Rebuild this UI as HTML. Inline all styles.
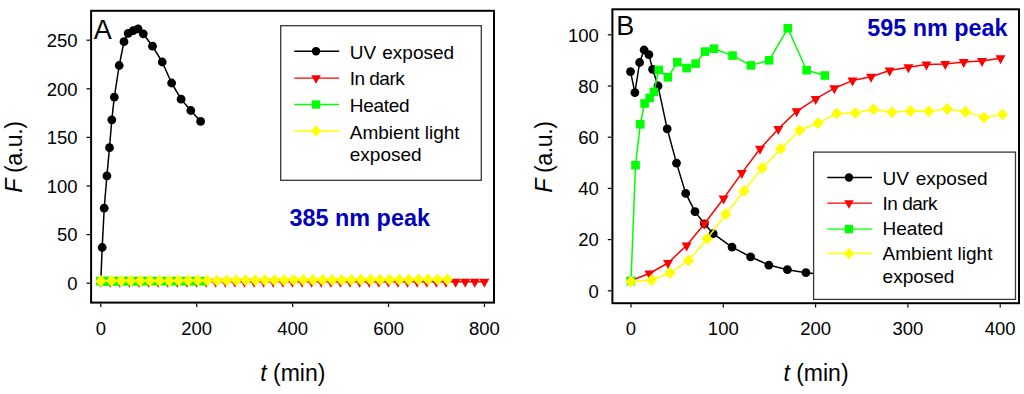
<!DOCTYPE html>
<html><head><meta charset="utf-8"><title>Fluorescence kinetics</title>
<style>
html,body{margin:0;padding:0;background:#fff;}
body{width:1024px;height:394px;overflow:hidden;}
svg{display:block;font-family:"Liberation Sans", sans-serif;}
</style></head>
<body>
<svg width="1024" height="394" viewBox="0 0 1024 394">
<rect width="1024" height="394" fill="#fff"/>
<polyline fill="none" stroke="#000000" stroke-width="1.5" stroke-linejoin="round" points="100.8,281.2 102.2,247.5 104.2,208.2 106.9,175.9 109.5,147.7 111.8,119.8 114.3,97.1 119.2,65.5 124,41.7 128.2,33.4 133.2,30.7 138.1,28.8 143.3,33.8 152.5,46.2 162.2,62 171.6,83 181.1,99.2 190.8,110.5 200.6,121.4"/>
<circle cx="100.8" cy="281.2" r="4.4" fill="#000000"/>
<circle cx="102.2" cy="247.5" r="4.4" fill="#000000"/>
<circle cx="104.2" cy="208.2" r="4.4" fill="#000000"/>
<circle cx="106.9" cy="175.9" r="4.4" fill="#000000"/>
<circle cx="109.5" cy="147.7" r="4.4" fill="#000000"/>
<circle cx="111.8" cy="119.8" r="4.4" fill="#000000"/>
<circle cx="114.3" cy="97.1" r="4.4" fill="#000000"/>
<circle cx="119.2" cy="65.5" r="4.4" fill="#000000"/>
<circle cx="124" cy="41.7" r="4.4" fill="#000000"/>
<circle cx="128.2" cy="33.4" r="4.4" fill="#000000"/>
<circle cx="133.2" cy="30.7" r="4.4" fill="#000000"/>
<circle cx="138.1" cy="28.8" r="4.4" fill="#000000"/>
<circle cx="143.3" cy="33.8" r="4.4" fill="#000000"/>
<circle cx="152.5" cy="46.2" r="4.4" fill="#000000"/>
<circle cx="162.2" cy="62" r="4.4" fill="#000000"/>
<circle cx="171.6" cy="83" r="4.4" fill="#000000"/>
<circle cx="181.1" cy="99.2" r="4.4" fill="#000000"/>
<circle cx="190.8" cy="110.5" r="4.4" fill="#000000"/>
<circle cx="200.6" cy="121.4" r="4.4" fill="#000000"/>
<polyline fill="none" stroke="#ff0000" stroke-width="1.5" stroke-linejoin="round" points="100.7,281.8 110.29,281.8 119.88,281.8 129.48,281.8 139.07,281.8 148.66,281.8 158.25,281.8 167.84,281.8 177.44,281.8 187.03,281.8 196.62,281.8 206.21,281.8 215.8,281.8 225.4,281.8 234.99,281.8 244.58,281.8 254.17,281.8 263.76,281.8 273.36,281.8 282.95,281.8 292.54,281.8 302.13,281.8 311.72,281.8 321.32,281.8 330.91,281.8 340.5,281.8 350.09,281.8 359.68,281.8 369.28,281.8 378.87,281.8 388.46,281.8 398.05,281.8 407.64,281.8 417.24,281.8 426.83,281.8 436.42,281.8 446.01,281.8 455.6,281.8 465.2,281.8 474.79,281.8 484.38,281.8"/>
<path d="M95.7 278.8L105.7 278.8L100.7 287.8Z" fill="#ff0000"/>
<path d="M105.29 278.8L115.29 278.8L110.29 287.8Z" fill="#ff0000"/>
<path d="M114.88 278.8L124.88 278.8L119.88 287.8Z" fill="#ff0000"/>
<path d="M124.48 278.8L134.48 278.8L129.48 287.8Z" fill="#ff0000"/>
<path d="M134.07 278.8L144.07 278.8L139.07 287.8Z" fill="#ff0000"/>
<path d="M143.66 278.8L153.66 278.8L148.66 287.8Z" fill="#ff0000"/>
<path d="M153.25 278.8L163.25 278.8L158.25 287.8Z" fill="#ff0000"/>
<path d="M162.84 278.8L172.84 278.8L167.84 287.8Z" fill="#ff0000"/>
<path d="M172.44 278.8L182.44 278.8L177.44 287.8Z" fill="#ff0000"/>
<path d="M182.03 278.8L192.03 278.8L187.03 287.8Z" fill="#ff0000"/>
<path d="M191.62 278.8L201.62 278.8L196.62 287.8Z" fill="#ff0000"/>
<path d="M201.21 278.8L211.21 278.8L206.21 287.8Z" fill="#ff0000"/>
<path d="M210.8 278.8L220.8 278.8L215.8 287.8Z" fill="#ff0000"/>
<path d="M220.4 278.8L230.4 278.8L225.4 287.8Z" fill="#ff0000"/>
<path d="M229.99 278.8L239.99 278.8L234.99 287.8Z" fill="#ff0000"/>
<path d="M239.58 278.8L249.58 278.8L244.58 287.8Z" fill="#ff0000"/>
<path d="M249.17 278.8L259.17 278.8L254.17 287.8Z" fill="#ff0000"/>
<path d="M258.76 278.8L268.76 278.8L263.76 287.8Z" fill="#ff0000"/>
<path d="M268.36 278.8L278.36 278.8L273.36 287.8Z" fill="#ff0000"/>
<path d="M277.95 278.8L287.95 278.8L282.95 287.8Z" fill="#ff0000"/>
<path d="M287.54 278.8L297.54 278.8L292.54 287.8Z" fill="#ff0000"/>
<path d="M297.13 278.8L307.13 278.8L302.13 287.8Z" fill="#ff0000"/>
<path d="M306.72 278.8L316.72 278.8L311.72 287.8Z" fill="#ff0000"/>
<path d="M316.32 278.8L326.32 278.8L321.32 287.8Z" fill="#ff0000"/>
<path d="M325.91 278.8L335.91 278.8L330.91 287.8Z" fill="#ff0000"/>
<path d="M335.5 278.8L345.5 278.8L340.5 287.8Z" fill="#ff0000"/>
<path d="M345.09 278.8L355.09 278.8L350.09 287.8Z" fill="#ff0000"/>
<path d="M354.68 278.8L364.68 278.8L359.68 287.8Z" fill="#ff0000"/>
<path d="M364.28 278.8L374.28 278.8L369.28 287.8Z" fill="#ff0000"/>
<path d="M373.87 278.8L383.87 278.8L378.87 287.8Z" fill="#ff0000"/>
<path d="M383.46 278.8L393.46 278.8L388.46 287.8Z" fill="#ff0000"/>
<path d="M393.05 278.8L403.05 278.8L398.05 287.8Z" fill="#ff0000"/>
<path d="M402.64 278.8L412.64 278.8L407.64 287.8Z" fill="#ff0000"/>
<path d="M412.24 278.8L422.24 278.8L417.24 287.8Z" fill="#ff0000"/>
<path d="M421.83 278.8L431.83 278.8L426.83 287.8Z" fill="#ff0000"/>
<path d="M431.42 278.8L441.42 278.8L436.42 287.8Z" fill="#ff0000"/>
<path d="M441.01 278.8L451.01 278.8L446.01 287.8Z" fill="#ff0000"/>
<path d="M450.6 278.8L460.6 278.8L455.6 287.8Z" fill="#ff0000"/>
<path d="M460.2 278.8L470.2 278.8L465.2 287.8Z" fill="#ff0000"/>
<path d="M469.79 278.8L479.79 278.8L474.79 287.8Z" fill="#ff0000"/>
<path d="M479.38 278.8L489.38 278.8L484.38 287.8Z" fill="#ff0000"/>
<polyline fill="none" stroke="#00ff00" stroke-width="1.5" stroke-linejoin="round" points="100.4,281.2 102.81,281.2 105.22,281.2 107.64,281.2 110.05,281.2 112.46,281.2 114.87,281.2 119.7,281.2 124.52,281.2 129.34,281.2 134.17,281.2 138.99,281.2 143.82,281.2 153.46,281.2 163.11,281.2 172.76,281.2 182.41,281.2 192.06,281.2 201.7,281.2"/>
<rect x="96.1" y="276.9" width="8.6" height="8.6" fill="#00ff00"/>
<rect x="98.51" y="276.9" width="8.6" height="8.6" fill="#00ff00"/>
<rect x="100.92" y="276.9" width="8.6" height="8.6" fill="#00ff00"/>
<rect x="103.34" y="276.9" width="8.6" height="8.6" fill="#00ff00"/>
<rect x="105.75" y="276.9" width="8.6" height="8.6" fill="#00ff00"/>
<rect x="108.16" y="276.9" width="8.6" height="8.6" fill="#00ff00"/>
<rect x="110.57" y="276.9" width="8.6" height="8.6" fill="#00ff00"/>
<rect x="115.4" y="276.9" width="8.6" height="8.6" fill="#00ff00"/>
<rect x="120.22" y="276.9" width="8.6" height="8.6" fill="#00ff00"/>
<rect x="125.04" y="276.9" width="8.6" height="8.6" fill="#00ff00"/>
<rect x="129.87" y="276.9" width="8.6" height="8.6" fill="#00ff00"/>
<rect x="134.69" y="276.9" width="8.6" height="8.6" fill="#00ff00"/>
<rect x="139.52" y="276.9" width="8.6" height="8.6" fill="#00ff00"/>
<rect x="149.16" y="276.9" width="8.6" height="8.6" fill="#00ff00"/>
<rect x="158.81" y="276.9" width="8.6" height="8.6" fill="#00ff00"/>
<rect x="168.46" y="276.9" width="8.6" height="8.6" fill="#00ff00"/>
<rect x="178.11" y="276.9" width="8.6" height="8.6" fill="#00ff00"/>
<rect x="187.76" y="276.9" width="8.6" height="8.6" fill="#00ff00"/>
<rect x="197.4" y="276.9" width="8.6" height="8.6" fill="#00ff00"/>
<polyline fill="none" stroke="#ffff00" stroke-width="1.5" stroke-linejoin="round" points="100.9,280.9 111.49,280.86 121.08,280.82 130.68,280.78 140.27,280.74 149.86,280.71 159.45,280.67 169.04,280.63 178.64,280.59 188.23,280.55 197.82,280.51 207.41,280.47 217,280.43 226.6,280.39 236.19,280.36 245.78,280.32 255.37,280.28 264.96,280.24 274.56,280.2 284.15,280.16 293.74,280.12 303.33,280.08 312.92,280.04 322.52,280.01 332.11,279.97 341.7,279.93 351.29,279.89 360.88,279.85 370.48,279.81 380.07,279.77 389.66,279.73 399.25,279.69 408.84,279.66 418.44,279.62 428.03,279.58 437.62,279.54 447.21,279.5"/>
<path d="M100.9 274.9L106.5 280.9L100.9 286.9L95.3 280.9Z" fill="#ffff00"/>
<path d="M111.49 274.86L117.09 280.86L111.49 286.86L105.89 280.86Z" fill="#ffff00"/>
<path d="M121.08 274.82L126.68 280.82L121.08 286.82L115.48 280.82Z" fill="#ffff00"/>
<path d="M130.68 274.78L136.28 280.78L130.68 286.78L125.08 280.78Z" fill="#ffff00"/>
<path d="M140.27 274.74L145.87 280.74L140.27 286.74L134.67 280.74Z" fill="#ffff00"/>
<path d="M149.86 274.71L155.46 280.71L149.86 286.71L144.26 280.71Z" fill="#ffff00"/>
<path d="M159.45 274.67L165.05 280.67L159.45 286.67L153.85 280.67Z" fill="#ffff00"/>
<path d="M169.04 274.63L174.64 280.63L169.04 286.63L163.44 280.63Z" fill="#ffff00"/>
<path d="M178.64 274.59L184.24 280.59L178.64 286.59L173.04 280.59Z" fill="#ffff00"/>
<path d="M188.23 274.55L193.83 280.55L188.23 286.55L182.63 280.55Z" fill="#ffff00"/>
<path d="M197.82 274.51L203.42 280.51L197.82 286.51L192.22 280.51Z" fill="#ffff00"/>
<path d="M207.41 274.47L213.01 280.47L207.41 286.47L201.81 280.47Z" fill="#ffff00"/>
<path d="M217 274.43L222.6 280.43L217 286.43L211.4 280.43Z" fill="#ffff00"/>
<path d="M226.6 274.39L232.2 280.39L226.6 286.39L221 280.39Z" fill="#ffff00"/>
<path d="M236.19 274.36L241.79 280.36L236.19 286.36L230.59 280.36Z" fill="#ffff00"/>
<path d="M245.78 274.32L251.38 280.32L245.78 286.32L240.18 280.32Z" fill="#ffff00"/>
<path d="M255.37 274.28L260.97 280.28L255.37 286.28L249.77 280.28Z" fill="#ffff00"/>
<path d="M264.96 274.24L270.56 280.24L264.96 286.24L259.36 280.24Z" fill="#ffff00"/>
<path d="M274.56 274.2L280.16 280.2L274.56 286.2L268.96 280.2Z" fill="#ffff00"/>
<path d="M284.15 274.16L289.75 280.16L284.15 286.16L278.55 280.16Z" fill="#ffff00"/>
<path d="M293.74 274.12L299.34 280.12L293.74 286.12L288.14 280.12Z" fill="#ffff00"/>
<path d="M303.33 274.08L308.93 280.08L303.33 286.08L297.73 280.08Z" fill="#ffff00"/>
<path d="M312.92 274.04L318.52 280.04L312.92 286.04L307.32 280.04Z" fill="#ffff00"/>
<path d="M322.52 274.01L328.12 280.01L322.52 286.01L316.92 280.01Z" fill="#ffff00"/>
<path d="M332.11 273.97L337.71 279.97L332.11 285.97L326.51 279.97Z" fill="#ffff00"/>
<path d="M341.7 273.93L347.3 279.93L341.7 285.93L336.1 279.93Z" fill="#ffff00"/>
<path d="M351.29 273.89L356.89 279.89L351.29 285.89L345.69 279.89Z" fill="#ffff00"/>
<path d="M360.88 273.85L366.48 279.85L360.88 285.85L355.28 279.85Z" fill="#ffff00"/>
<path d="M370.48 273.81L376.08 279.81L370.48 285.81L364.88 279.81Z" fill="#ffff00"/>
<path d="M380.07 273.77L385.67 279.77L380.07 285.77L374.47 279.77Z" fill="#ffff00"/>
<path d="M389.66 273.73L395.26 279.73L389.66 285.73L384.06 279.73Z" fill="#ffff00"/>
<path d="M399.25 273.69L404.85 279.69L399.25 285.69L393.65 279.69Z" fill="#ffff00"/>
<path d="M408.84 273.66L414.44 279.66L408.84 285.66L403.24 279.66Z" fill="#ffff00"/>
<path d="M418.44 273.62L424.04 279.62L418.44 285.62L412.84 279.62Z" fill="#ffff00"/>
<path d="M428.03 273.58L433.63 279.58L428.03 285.58L422.43 279.58Z" fill="#ffff00"/>
<path d="M437.62 273.54L443.22 279.54L437.62 285.54L432.02 279.54Z" fill="#ffff00"/>
<path d="M447.21 273.5L452.81 279.5L447.21 285.5L441.61 279.5Z" fill="#ffff00"/>
<rect x="91.1" y="10.8" width="402.9" height="291.8" fill="none" stroke="#000" stroke-width="2.0"/>
<line x1="86.5" y1="283.2" x2="90.1" y2="283.2" stroke="#000" stroke-width="1.2"/>
<text x="77.5" y="290" font-size="19.2" text-anchor="end" id="Ay0" textLength="10.29" lengthAdjust="spacingAndGlyphs">0</text>
<line x1="86.5" y1="234.6" x2="90.1" y2="234.6" stroke="#000" stroke-width="1.2"/>
<text x="77.5" y="241.4" font-size="19.2" text-anchor="end" id="Ay50" textLength="20.58" lengthAdjust="spacingAndGlyphs">50</text>
<line x1="86.5" y1="186" x2="90.1" y2="186" stroke="#000" stroke-width="1.2"/>
<text x="77.5" y="192.8" font-size="19.2" text-anchor="end" id="Ay100" textLength="30.86" lengthAdjust="spacingAndGlyphs">100</text>
<line x1="86.5" y1="137.4" x2="90.1" y2="137.4" stroke="#000" stroke-width="1.2"/>
<text x="77.5" y="144.2" font-size="19.2" text-anchor="end" id="Ay150" textLength="30.86" lengthAdjust="spacingAndGlyphs">150</text>
<line x1="86.5" y1="88.8" x2="90.1" y2="88.8" stroke="#000" stroke-width="1.2"/>
<text x="77.5" y="95.6" font-size="19.2" text-anchor="end" id="Ay200" textLength="30.86" lengthAdjust="spacingAndGlyphs">200</text>
<line x1="86.5" y1="40.2" x2="90.1" y2="40.2" stroke="#000" stroke-width="1.2"/>
<text x="77.5" y="47" font-size="19.2" text-anchor="end" id="Ay250" textLength="30.86" lengthAdjust="spacingAndGlyphs">250</text>
<line x1="100.8" y1="303.6" x2="100.8" y2="307" stroke="#000" stroke-width="1.2"/>
<text x="100.8" y="335.3" font-size="19.2" text-anchor="middle" id="Ax0" textLength="10.29" lengthAdjust="spacingAndGlyphs">0</text>
<line x1="196.72" y1="303.6" x2="196.72" y2="307" stroke="#000" stroke-width="1.2"/>
<text x="196.72" y="335.3" font-size="19.2" text-anchor="middle" id="Ax200" textLength="30.86" lengthAdjust="spacingAndGlyphs">200</text>
<line x1="292.64" y1="303.6" x2="292.64" y2="307" stroke="#000" stroke-width="1.2"/>
<text x="292.64" y="335.3" font-size="19.2" text-anchor="middle" id="Ax400" textLength="30.86" lengthAdjust="spacingAndGlyphs">400</text>
<line x1="388.56" y1="303.6" x2="388.56" y2="307" stroke="#000" stroke-width="1.2"/>
<text x="388.56" y="335.3" font-size="19.2" text-anchor="middle" id="Ax600" textLength="30.86" lengthAdjust="spacingAndGlyphs">600</text>
<line x1="484.48" y1="303.6" x2="484.48" y2="307" stroke="#000" stroke-width="1.2"/>
<text x="484.48" y="335.3" font-size="19.2" text-anchor="middle" id="Ax800" textLength="30.86" lengthAdjust="spacingAndGlyphs">800</text>
<rect x="280.7" y="25.7" width="200.6" height="154.6" fill="#fff" stroke="#383838" stroke-width="1.3"/>
<line x1="294.3" y1="51.3" x2="339.2" y2="51.3" stroke="#000000" stroke-width="1.4"/>
<circle cx="316.05" cy="51.3" r="4.2" fill="#000000"/>
<text x="349.8" y="58.75" font-size="19" id="auv">UV<tspan x="382.3">exposed</tspan></text>
<line x1="294.3" y1="78.1" x2="339.2" y2="78.1" stroke="#ff0000" stroke-width="1.4"/>
<path d="M311.25 75.23L320.85 75.23L316.05 83.83Z" fill="#ff0000"/>
<text x="349.8" y="85.3" font-size="19" id="adk" textLength="54.9" lengthAdjust="spacing">In dark</text>
<line x1="294.3" y1="104.5" x2="339.2" y2="104.5" stroke="#00ff00" stroke-width="1.4"/>
<rect x="311.9" y="100.35" width="8.3" height="8.3" fill="#00ff00"/>
<text x="349.8" y="111.9" font-size="19" id="aht" textLength="59.8" lengthAdjust="spacing">Heated</text>
<line x1="294.3" y1="131" x2="339.2" y2="131" stroke="#ffff00" stroke-width="1.4"/>
<path d="M316.05 125.3L321.45 131L316.05 136.7L310.65 131Z" fill="#ffff00"/>
<text x="349.8" y="138.6" font-size="19" id="aam">Ambient light</text>
<text x="349.8" y="161.1" font-size="19" id="aex">exposed</text>
<text x="93.8" y="39" font-size="27" id="lA">A</text>
<text x="289.5" y="225.8" font-size="23.4" font-weight="bold" fill="#0000bb" id="pA">385 nm peak</text>
<text x="292.8" y="381.1" font-size="23" text-anchor="middle" id="tA"><tspan font-style="italic">t</tspan> (min)</text>
<text id="fA" transform="translate(22.2,156.8) rotate(-90)" font-size="23.3" text-anchor="middle" textLength="71.8" lengthAdjust="spacing"><tspan font-style="italic">F</tspan> (a.u.)</text>
<polyline fill="none" stroke="#000000" stroke-width="1.5" stroke-linejoin="round" points="630.5,71.6 634.9,92.6 639.6,62.5 644.1,50 648.9,54.6 652.6,69.3 658,85.8 667.2,128.8 676.5,163.1 685.7,193.4 695,211.6 704.4,223.8 713.2,233.7 732,247.1 750.6,256.8 768.8,265.1 787.4,269.7 805.9,272.7 824.5,274.5"/>
<circle cx="630.5" cy="71.6" r="4.4" fill="#000000"/>
<circle cx="634.9" cy="92.6" r="4.4" fill="#000000"/>
<circle cx="639.6" cy="62.5" r="4.4" fill="#000000"/>
<circle cx="644.1" cy="50" r="4.4" fill="#000000"/>
<circle cx="648.9" cy="54.6" r="4.4" fill="#000000"/>
<circle cx="652.6" cy="69.3" r="4.4" fill="#000000"/>
<circle cx="658" cy="85.8" r="4.4" fill="#000000"/>
<circle cx="667.2" cy="128.8" r="4.4" fill="#000000"/>
<circle cx="676.5" cy="163.1" r="4.4" fill="#000000"/>
<circle cx="685.7" cy="193.4" r="4.4" fill="#000000"/>
<circle cx="695" cy="211.6" r="4.4" fill="#000000"/>
<circle cx="704.4" cy="223.8" r="4.4" fill="#000000"/>
<circle cx="713.2" cy="233.7" r="4.4" fill="#000000"/>
<circle cx="732" cy="247.1" r="4.4" fill="#000000"/>
<circle cx="750.6" cy="256.8" r="4.4" fill="#000000"/>
<circle cx="768.8" cy="265.1" r="4.4" fill="#000000"/>
<circle cx="787.4" cy="269.7" r="4.4" fill="#000000"/>
<circle cx="805.9" cy="272.7" r="4.4" fill="#000000"/>
<circle cx="824.5" cy="274.5" r="4.4" fill="#000000"/>
<polyline fill="none" stroke="#ff0000" stroke-width="1.5" stroke-linejoin="round" points="631,280.5 649.4,273.5 668,263 686.6,245.4 704.4,223.8 723.6,198.5 741.8,173.1 760,148.7 778.3,128.9 796.6,111.3 815.7,98.9 834.3,88.2 852.5,80.6 871.1,76.8 889.6,70.5 908.4,67.2 926.4,64.6 945.2,64.1 963.7,62.1 982,61.1 1000.5,58.3"/>
<path d="M626 277.5L636 277.5L631 286.5Z" fill="#ff0000"/>
<path d="M644.4 270.5L654.4 270.5L649.4 279.5Z" fill="#ff0000"/>
<path d="M663 260L673 260L668 269Z" fill="#ff0000"/>
<path d="M681.6 242.4L691.6 242.4L686.6 251.4Z" fill="#ff0000"/>
<path d="M699.4 220.8L709.4 220.8L704.4 229.8Z" fill="#ff0000"/>
<path d="M718.6 195.5L728.6 195.5L723.6 204.5Z" fill="#ff0000"/>
<path d="M736.8 170.1L746.8 170.1L741.8 179.1Z" fill="#ff0000"/>
<path d="M755 145.7L765 145.7L760 154.7Z" fill="#ff0000"/>
<path d="M773.3 125.9L783.3 125.9L778.3 134.9Z" fill="#ff0000"/>
<path d="M791.6 108.3L801.6 108.3L796.6 117.3Z" fill="#ff0000"/>
<path d="M810.7 95.9L820.7 95.9L815.7 104.9Z" fill="#ff0000"/>
<path d="M829.3 85.2L839.3 85.2L834.3 94.2Z" fill="#ff0000"/>
<path d="M847.5 77.6L857.5 77.6L852.5 86.6Z" fill="#ff0000"/>
<path d="M866.1 73.8L876.1 73.8L871.1 82.8Z" fill="#ff0000"/>
<path d="M884.6 67.5L894.6 67.5L889.6 76.5Z" fill="#ff0000"/>
<path d="M903.4 64.2L913.4 64.2L908.4 73.2Z" fill="#ff0000"/>
<path d="M921.4 61.6L931.4 61.6L926.4 70.6Z" fill="#ff0000"/>
<path d="M940.2 61.1L950.2 61.1L945.2 70.1Z" fill="#ff0000"/>
<path d="M958.7 59.1L968.7 59.1L963.7 68.1Z" fill="#ff0000"/>
<path d="M977 58.1L987 58.1L982 67.1Z" fill="#ff0000"/>
<path d="M995.5 55.3L1005.5 55.3L1000.5 64.3Z" fill="#ff0000"/>
<polyline fill="none" stroke="#00ff00" stroke-width="1.5" stroke-linejoin="round" points="631,281 635.5,165.2 640.3,124.3 644.6,103.5 649.6,98 654,92 658.7,69.9 667.9,77.3 677.3,62.2 686.6,68.1 695.6,63.6 705,51.6 714,48.7 732.6,55.6 750.9,65.4 769.1,60.3 787.8,28.3 806.6,70.2 824.9,75.5"/>
<rect x="626.7" y="276.7" width="8.6" height="8.6" fill="#00ff00"/>
<rect x="631.2" y="160.9" width="8.6" height="8.6" fill="#00ff00"/>
<rect x="636" y="120" width="8.6" height="8.6" fill="#00ff00"/>
<rect x="640.3" y="99.2" width="8.6" height="8.6" fill="#00ff00"/>
<rect x="645.3" y="93.7" width="8.6" height="8.6" fill="#00ff00"/>
<rect x="649.7" y="87.7" width="8.6" height="8.6" fill="#00ff00"/>
<rect x="654.4" y="65.6" width="8.6" height="8.6" fill="#00ff00"/>
<rect x="663.6" y="73" width="8.6" height="8.6" fill="#00ff00"/>
<rect x="673" y="57.9" width="8.6" height="8.6" fill="#00ff00"/>
<rect x="682.3" y="63.8" width="8.6" height="8.6" fill="#00ff00"/>
<rect x="691.3" y="59.3" width="8.6" height="8.6" fill="#00ff00"/>
<rect x="700.7" y="47.3" width="8.6" height="8.6" fill="#00ff00"/>
<rect x="709.7" y="44.4" width="8.6" height="8.6" fill="#00ff00"/>
<rect x="728.3" y="51.3" width="8.6" height="8.6" fill="#00ff00"/>
<rect x="746.6" y="61.1" width="8.6" height="8.6" fill="#00ff00"/>
<rect x="764.8" y="56" width="8.6" height="8.6" fill="#00ff00"/>
<rect x="783.5" y="24" width="8.6" height="8.6" fill="#00ff00"/>
<rect x="802.3" y="65.9" width="8.6" height="8.6" fill="#00ff00"/>
<rect x="820.6" y="71.2" width="8.6" height="8.6" fill="#00ff00"/>
<polyline fill="none" stroke="#ffff00" stroke-width="1.5" stroke-linejoin="round" points="631.1,281.7 651.7,280 670,273.1 688.6,260.5 707.2,238.7 725.7,214.3 744,191 762.2,167.9 780.8,148.7 799.7,130.3 817.9,123.3 836.8,113.6 855.3,113.1 873.6,109.3 891.9,112.3 910.4,111.1 928.7,111.3 947.2,109 965.5,111.8 984,117.4 1002.5,114.4"/>
<path d="M631.1 275.7L636.7 281.7L631.1 287.7L625.5 281.7Z" fill="#ffff00"/>
<path d="M651.7 274L657.3 280L651.7 286L646.1 280Z" fill="#ffff00"/>
<path d="M670 267.1L675.6 273.1L670 279.1L664.4 273.1Z" fill="#ffff00"/>
<path d="M688.6 254.5L694.2 260.5L688.6 266.5L683 260.5Z" fill="#ffff00"/>
<path d="M707.2 232.7L712.8 238.7L707.2 244.7L701.6 238.7Z" fill="#ffff00"/>
<path d="M725.7 208.3L731.3 214.3L725.7 220.3L720.1 214.3Z" fill="#ffff00"/>
<path d="M744 185L749.6 191L744 197L738.4 191Z" fill="#ffff00"/>
<path d="M762.2 161.9L767.8 167.9L762.2 173.9L756.6 167.9Z" fill="#ffff00"/>
<path d="M780.8 142.7L786.4 148.7L780.8 154.7L775.2 148.7Z" fill="#ffff00"/>
<path d="M799.7 124.3L805.3 130.3L799.7 136.3L794.1 130.3Z" fill="#ffff00"/>
<path d="M817.9 117.3L823.5 123.3L817.9 129.3L812.3 123.3Z" fill="#ffff00"/>
<path d="M836.8 107.6L842.4 113.6L836.8 119.6L831.2 113.6Z" fill="#ffff00"/>
<path d="M855.3 107.1L860.9 113.1L855.3 119.1L849.7 113.1Z" fill="#ffff00"/>
<path d="M873.6 103.3L879.2 109.3L873.6 115.3L868 109.3Z" fill="#ffff00"/>
<path d="M891.9 106.3L897.5 112.3L891.9 118.3L886.3 112.3Z" fill="#ffff00"/>
<path d="M910.4 105.1L916 111.1L910.4 117.1L904.8 111.1Z" fill="#ffff00"/>
<path d="M928.7 105.3L934.3 111.3L928.7 117.3L923.1 111.3Z" fill="#ffff00"/>
<path d="M947.2 103L952.8 109L947.2 115L941.6 109Z" fill="#ffff00"/>
<path d="M965.5 105.8L971.1 111.8L965.5 117.8L959.9 111.8Z" fill="#ffff00"/>
<path d="M984 111.4L989.6 117.4L984 123.4L978.4 117.4Z" fill="#ffff00"/>
<path d="M1002.5 108.4L1008.1 114.4L1002.5 120.4L996.9 114.4Z" fill="#ffff00"/>
<rect x="813.6" y="152.1" width="201.9" height="147.3" fill="#fff" stroke="#383838" stroke-width="1.3"/>
<line x1="827.3" y1="177.5" x2="872" y2="177.5" stroke="#000000" stroke-width="1.4"/>
<circle cx="848.95" cy="177.5" r="4.2" fill="#000000"/>
<text x="882.6" y="185.3" font-size="19" id="buv">UV<tspan x="915.7">exposed</tspan></text>
<line x1="827.3" y1="203.1" x2="872" y2="203.1" stroke="#ff0000" stroke-width="1.4"/>
<path d="M844.15 200.23L853.75 200.23L848.95 208.83Z" fill="#ff0000"/>
<text x="882.6" y="210" font-size="19" id="bdk" textLength="55" lengthAdjust="spacing">In dark</text>
<line x1="827.3" y1="229.1" x2="872" y2="229.1" stroke="#00ff00" stroke-width="1.4"/>
<rect x="844.8" y="224.95" width="8.3" height="8.3" fill="#00ff00"/>
<text x="882.6" y="235.3" font-size="19" id="bht" textLength="60.8" lengthAdjust="spacing">Heated</text>
<line x1="827.3" y1="253.5" x2="872" y2="253.5" stroke="#ffff00" stroke-width="1.4"/>
<path d="M848.95 247.8L854.35 253.5L848.95 259.2L843.55 253.5Z" fill="#ffff00"/>
<text x="882.6" y="260.1" font-size="19" id="bam">Ambient light</text>
<text x="882.6" y="283" font-size="19" id="bex">exposed</text>
<rect x="612.4" y="9.3" width="406.6" height="293.9" fill="none" stroke="#000" stroke-width="2.0"/>
<line x1="607.8" y1="290.8" x2="611.4" y2="290.8" stroke="#000" stroke-width="1.2"/>
<text x="598.8" y="297.6" font-size="19.2" text-anchor="end" id="By0" textLength="10.29" lengthAdjust="spacingAndGlyphs">0</text>
<line x1="607.8" y1="239.6" x2="611.4" y2="239.6" stroke="#000" stroke-width="1.2"/>
<text x="598.8" y="246.4" font-size="19.2" text-anchor="end" id="By20" textLength="20.58" lengthAdjust="spacingAndGlyphs">20</text>
<line x1="607.8" y1="188.4" x2="611.4" y2="188.4" stroke="#000" stroke-width="1.2"/>
<text x="598.8" y="195.2" font-size="19.2" text-anchor="end" id="By40" textLength="20.58" lengthAdjust="spacingAndGlyphs">40</text>
<line x1="607.8" y1="137.2" x2="611.4" y2="137.2" stroke="#000" stroke-width="1.2"/>
<text x="598.8" y="144" font-size="19.2" text-anchor="end" id="By60" textLength="20.58" lengthAdjust="spacingAndGlyphs">60</text>
<line x1="607.8" y1="86" x2="611.4" y2="86" stroke="#000" stroke-width="1.2"/>
<text x="598.8" y="92.8" font-size="19.2" text-anchor="end" id="By80" textLength="20.58" lengthAdjust="spacingAndGlyphs">80</text>
<line x1="607.8" y1="34.8" x2="611.4" y2="34.8" stroke="#000" stroke-width="1.2"/>
<text x="598.8" y="41.6" font-size="19.2" text-anchor="end" id="By100" textLength="30.86" lengthAdjust="spacingAndGlyphs">100</text>
<line x1="631" y1="304.2" x2="631" y2="307.6" stroke="#000" stroke-width="1.2"/>
<text x="631" y="335.3" font-size="19.2" text-anchor="middle" id="Bx0" textLength="10.29" lengthAdjust="spacingAndGlyphs">0</text>
<line x1="723.3" y1="304.2" x2="723.3" y2="307.6" stroke="#000" stroke-width="1.2"/>
<text x="723.3" y="335.3" font-size="19.2" text-anchor="middle" id="Bx100" textLength="30.86" lengthAdjust="spacingAndGlyphs">100</text>
<line x1="815.6" y1="304.2" x2="815.6" y2="307.6" stroke="#000" stroke-width="1.2"/>
<text x="815.6" y="335.3" font-size="19.2" text-anchor="middle" id="Bx200" textLength="30.86" lengthAdjust="spacingAndGlyphs">200</text>
<line x1="907.9" y1="304.2" x2="907.9" y2="307.6" stroke="#000" stroke-width="1.2"/>
<text x="907.9" y="335.3" font-size="19.2" text-anchor="middle" id="Bx300" textLength="30.86" lengthAdjust="spacingAndGlyphs">300</text>
<line x1="1000.2" y1="304.2" x2="1000.2" y2="307.6" stroke="#000" stroke-width="1.2"/>
<text x="1000.2" y="335.3" font-size="19.2" text-anchor="middle" id="Bx400" textLength="30.86" lengthAdjust="spacingAndGlyphs">400</text>
<text x="616.2" y="35.4" font-size="27" id="lB">B</text>
<text x="867.2" y="36.1" font-size="23.4" font-weight="bold" fill="#0000bb" id="pB">595 nm peak</text>
<text x="816" y="381.1" font-size="23" text-anchor="middle" id="tB"><tspan font-style="italic">t</tspan> (min)</text>
<text id="fB" transform="translate(552.2,156.8) rotate(-90)" font-size="23.3" text-anchor="middle" textLength="71.8" lengthAdjust="spacing"><tspan font-style="italic">F</tspan> (a.u.)</text>
</svg>
</body></html>
